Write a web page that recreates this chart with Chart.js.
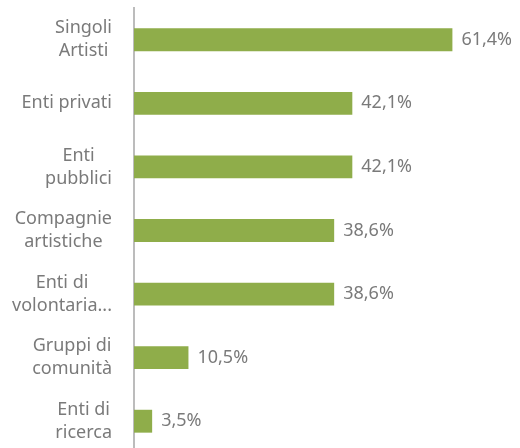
<!DOCTYPE html>
<html>
<head>
<meta charset="utf-8">
<script src="https://cdn.jsdelivr.net/npm/chart.js@4/dist/chart.umd.min.js"></script>
<style>
  html, body { margin: 0; padding: 0; background: #fff; overflow: hidden; }
  #wrap { position: relative; width: 520px; height: 453px; }
</style>
</head>
<body>
<div id="wrap"><canvas id="grafico"></canvas></div>
<script>
// categorie (righe della etichetta) e valori in %
const categorie = [
  ['Singoli', 'Artisti'],
  ['Enti privati'],
  ['Enti', 'pubblici'],
  ['Compagnie', 'artistiche'],
  ['Enti di', 'volontaria...'],
  ['Gruppi di', 'comunità'],
  ['Enti di', 'ricerca']
];
const valori = [61.4, 42.1, 42.1, 38.6, 38.6, 10.5, 3.5];

const FONT = '"Noto Sans", "Open Sans", sans-serif';
const GRIGIO = '#7a7a7a';

// etichette dell'asse: blocco allineato a destra, righe centrate tra loro
const etichetteAsse = {
  id: 'etichetteAsse',
  afterDraw(chart) {
    const ctx = chart.ctx;
    const scala = chart.scales.y;
    const destra = 112;
    const interlinea = 23;
    ctx.save();
    ctx.font = '18px ' + FONT;
    ctx.fillStyle = GRIGIO;
    ctx.textAlign = 'center';
    ctx.textBaseline = 'middle';
    categorie.forEach((righe, i) => {
      const y = scala.getPixelForTick(i);
      const larghezza = Math.max(...righe.map(r => ctx.measureText(r).width));
      const cx = destra - larghezza / 2;
      const y0 = y - (righe.length - 1) * interlinea / 2;
      righe.forEach((r, j) => ctx.fillText(r, cx, y0 + j * interlinea));
    });
    ctx.restore();
  }
};

// etichette dei valori a destra delle barre
const etichetteValori = {
  id: 'etichetteValori',
  afterDatasetsDraw(chart) {
    const ctx = chart.ctx;
    const meta = chart.getDatasetMeta(0);
    ctx.save();
    ctx.font = '18px ' + FONT;
    ctx.fillStyle = GRIGIO;
    ctx.textAlign = 'left';
    ctx.textBaseline = 'middle';
    meta.data.forEach((barra, i) => {
      const testo = valori[i].toFixed(1).replace('.', ',') + '%';
      ctx.fillText(testo, barra.x + 9, barra.y);
    });
    ctx.restore();
  }
};

const ctx = document.getElementById('grafico').getContext('2d');
new Chart(ctx, {
  type: 'bar',
  data: {
    labels: categorie,
    datasets: [{
      data: valori,
      backgroundColor: '#8fad4a',
      borderWidth: 0,
      barPercentage: 0.36,
      categoryPercentage: 1
    }]
  },
  options: {
    indexAxis: 'y',
    responsive: true,
    maintainAspectRatio: false,
    animation: false,
    layout: { padding: { top: 8, right: 23, bottom: 0, left: 0 } },
    plugins: {
      legend: { display: false },
      tooltip: { enabled: false }
    },
    scales: {
      x: {
        display: false,
        min: 0,
        max: 70
      },
      y: {
        grid: { display: false, drawTicks: false },
        border: { display: true, color: '#bcbcbc', width: 2 },
        ticks: { display: false },
        afterFit(scala) { scala.width = 134; }
      }
    }
  },
  plugins: [etichetteAsse, etichetteValori]
});
</script>
</body>
</html>
